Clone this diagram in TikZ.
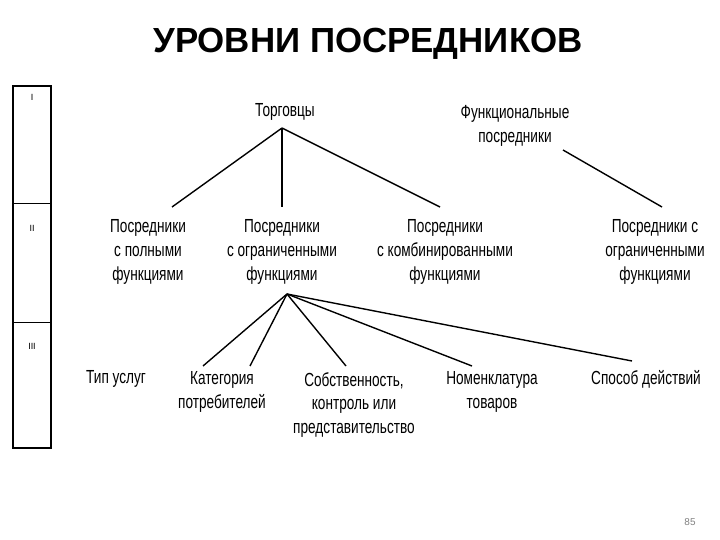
\documentclass[tikz,border=0pt]{standalone}
\usepackage{fontspec}
\setmainfont{Liberation Sans}
\newfontfamily\narrowf[FakeStretch=0.72]{Liberation Sans}
\begin{document}
\begin{tikzpicture}[x=1bp,y=-1bp,
  lbl/.style={font=\narrowf\fontsize{19}{24}\selectfont,align=center,inner sep=1pt},
  conn/.style={line width=1.4pt},
  roman/.style={font=\fontsize{9}{10}\selectfont}]
\useasboundingbox (0,0) rectangle (720,540);
\node[font=\bfseries\fontsize{35}{38}\selectfont] (title) at (368,44) {УРОВНИ ПОСРЕДНИКОВ};
% level box
\draw[line width=1.6pt] (13,86) rectangle (51,448);
\draw[line width=0.8pt] (13,203) -- (51,203) (13,322) -- (51,322);
\node[roman] (r1) at (32,97) {I};
\node[roman] (r2) at (32,228) {II};
\node[roman] (r3) at (32,346) {III};
% level I
\node[lbl] (torg) at (285,112) {Торговцы};
\node[lbl] (func) at (515,126) {Функциональные\\посредники};
\coordinate (tb) at (282,128);
\coordinate (fb) at (563,150);
% level II
\node[lbl] (p1) at (148,252) {Посредники\\с полными\\функциями};
\node[lbl] (p2) at (282,252) {Посредники\\с ограниченными\\функциями};
\node[lbl] (p3) at (445,252) {Посредники\\с комбинированными\\функциями};
\node[lbl] (p4) at (655,252) {Посредники с\\ограниченными\\функциями};
\coordinate (p1t) at (172,207);
\coordinate (p2t) at (282,207);
\coordinate (p3t) at (440,207);
\coordinate (p4t) at (662,207);
\draw[conn] (tb) -- (p1t);
\draw[conn] (tb) -- (p2t);
\draw[conn] (tb) -- (p3t);
\draw[conn] (fb) -- (p4t);
% level III
\coordinate (pb) at (287,294);
\node[lbl] (t1) at (116,379) {Тип услуг};
\node[lbl] (t2) at (222,392) {Категория\\потребителей};
\node[lbl] (t3) at (354,405) {Собственность,\\контроль или\\представительство};
\node[lbl] (t4) at (492,392) {Номенклатура\\товаров};
\node[lbl] (t5) at (646,379) {Способ действий};
\draw[conn] (pb) -- (203,366);
\draw[conn] (pb) -- (250,366);
\draw[conn] (pb) -- (346,366);
\draw[conn] (pb) -- (472,366);
\draw[conn] (pb) -- (632,361);
\node[font=\fontsize{10}{11}\selectfont,text=gray] (pg) at (690,522) {85};
\end{tikzpicture}
\end{document}
